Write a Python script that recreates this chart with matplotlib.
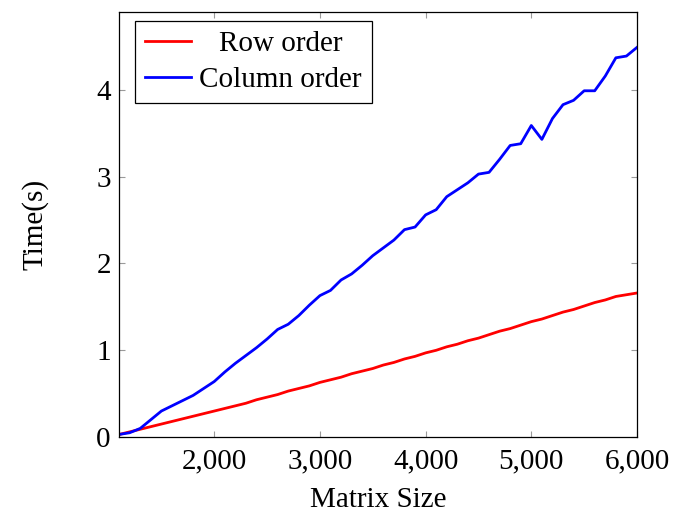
import numpy as np
import matplotlib
matplotlib.use('Agg')
import matplotlib.pyplot as plt
from matplotlib.ticker import FuncFormatter

plt.rcParams['font.family'] = ['Liberation Serif', 'DejaVu Serif']

# matrix sizes, 1100..6000 in steps of 100
sizes = list(range(1100, 6001, 100))

row_order = [0.03, 0.06, 0.09, 0.12, 0.15, 0.18, 0.21, 0.24, 0.27, 0.30,
             0.33, 0.36, 0.39, 0.43, 0.46, 0.49, 0.53, 0.56, 0.59, 0.63,
             0.66, 0.69, 0.73, 0.76, 0.79, 0.83, 0.86, 0.90, 0.93, 0.97,
             1.00, 1.04, 1.07, 1.11, 1.14, 1.18, 1.22, 1.25, 1.29, 1.33,
             1.36, 1.40, 1.44, 1.47, 1.51, 1.55, 1.58, 1.62, 1.64, 1.66]

col_order = [0.03, 0.05, 0.10, 0.20, 0.30, 0.36, 0.42, 0.48, 0.56, 0.64,
             0.75, 0.85, 0.94, 1.03, 1.13, 1.24, 1.30, 1.40, 1.52, 1.63,
             1.69, 1.81, 1.88, 1.98, 2.09, 2.18, 2.27, 2.39, 2.42, 2.56,
             2.62, 2.77, 2.85, 2.93, 3.03, 3.05, 3.20, 3.36, 3.38, 3.59,
             3.43, 3.67, 3.83, 3.88, 3.99, 3.99, 4.16, 4.37, 4.39, 4.49]

fs = 21

fig = plt.figure(figsize=(6.73, 5.13), dpi=100)
ax = fig.add_axes([0.177, 0.148, 0.7695, 0.829])

ax.plot(sizes, row_order, color='red', lw=2.0, label='Row order')
ax.plot(sizes, col_order, color='blue', lw=2.0, label='Column order')

ax.set_xlim(1100, 6000)
ax.set_ylim(0, 4.9)
ax.set_xticks([2000, 3000, 4000, 5000, 6000])
ax.set_yticks([0, 1, 2, 3, 4])
ax.xaxis.set_major_formatter(FuncFormatter(lambda v, p: f'{int(v):,}'))

ax.tick_params(direction='in', length=4.5, width=0.8, color='#9a9a9a',
               top=True, right=True, labelsize=fs)
ax.tick_params(axis='x', pad=8)
ax.tick_params(axis='y', pad=6)
for s in ax.spines.values():
    s.set_linewidth(0.9)
    s.set_color('black')

ax.set_xlabel('Matrix Size', fontsize=fs, labelpad=9)
ax.set_ylabel('Time(s)', fontsize=fs, labelpad=34)

leg = ax.legend(loc='upper left', bbox_to_anchor=(0.031, 0.979),
                borderaxespad=0, fontsize=fs, frameon=True, fancybox=False,
                edgecolor='black', framealpha=1,
                handlelength=1.55, handletextpad=0.3, borderpad=0.35,
                labelspacing=0.32)
leg.get_frame().set_linewidth(0.9)

# centre the legend entries within the text column
fig.canvas.draw()
r = fig.canvas.get_renderer()
widths = [t.get_window_extent(r).width for t in leg.texts]
wmax = max(widths)
for t, w in zip(leg.texts, widths):
    t.set_x((wmax - w) / 2)

fig.savefig('out.png', dpi=100)
